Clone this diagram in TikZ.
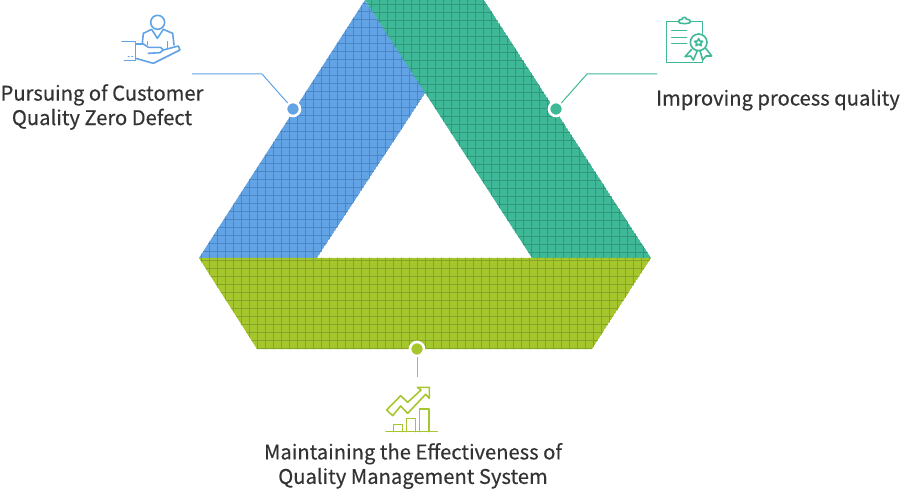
\documentclass[tikz,border=0pt]{standalone}
\usepackage{fontspec}
\setmainfont[FakeBold=0.4]{Noto Sans CJK KR}
\usetikzlibrary{positioning}
\definecolor{bluefill}{HTML}{62A3E6}
\definecolor{blueline}{HTML}{4D86C4}
\definecolor{greenfill}{HTML}{3FB898}
\definecolor{greenline}{HTML}{32967C}
\definecolor{olivefill}{HTML}{A6C62E}
\definecolor{oliveline}{HTML}{86A32A}
\definecolor{labeltext}{HTML}{333333}
\tikzset{
every picture/.style={
line width=1pt
},
label/.style={
  align=center, text=labeltext, font=\fontsize{20.2}{24.5}\selectfont, inner sep=0pt
},
dot/.style={
  circle, fill=#1, draw=white, line width=2.6pt, minimum size=14pt, inner sep=0pt, outer sep=1pt
},
icon/.style={
  draw=#1, line width=1.6pt, line join=round, line cap=round
}
}
\newcommand{\meshband}[5]{
  \begin{scope}
    \clip #1;
    \fill [#2] #1;
    \foreach \x in {0,8,...,896} \draw [#3] (\x+#4,0) -- (\x+#4,489);
    \foreach \y in {0,8,...,488} \draw [#3] (0,\y+#5) -- (900,\y+#5);
  \end{scope}
}
\begin{document}
\begin{tikzpicture}[x=1pt,y=-1pt]
\useasboundingbox (0,0) rectangle (900,489);

\meshband{(199,258) -- (365,0) -- (426,92) -- (317,258) -- cycle}{bluefill}{blueline}{1.5}{3.5}
\meshband{(365,0) -- (484,0) -- (651,258) -- (532,258) -- cycle}{greenfill}{greenline}{3.5}{4.5}
\meshband{(199,258) -- (651,258) -- (592,349) -- (257,349) -- cycle}{olivefill}{oliveline}{1.5}{4.5}

\node [dot=bluefill] at (293,109) (d1) {};
\node [dot=greenfill] at (556,109) (d2) {};
\node [dot=olivefill] at (417,349) (d3) {};

\coordinate (b1) at (262,74);
\coordinate (e1) at (192,74);
\coordinate (b2) at (587,74);
\coordinate (e2) at (657,74);
\coordinate (e3) at (417,377);

\draw [bluefill] (d1) -- (b1) -- (e1);
\draw [greenfill] (d2) -- (b2) -- (e2);
\draw [olivefill] (d3) -- (e3);

\node [label] at (102,107) (l1) {Pursuing of Customer\\Quality Zero Defect};
\node [label] at (778,100) (l2) {Improving process quality};
\node [label] at (413,466) (l3) {Maintaining the Effectiveness of\\Quality Management System};

% person with open hand
\begin{scope}[shift={(100,0)},x=1/3*1pt,y=-1/3*1pt]
  \draw [icon=bluefill] (173,67) circle (21);
  \draw [icon=bluefill] (127,130) -- (130,100) -- (155,88) -- (172,115) -- (190,88) -- (218,100) -- (222,135);
  \draw [icon=bluefill] (143,125) -- (143,134) (203,125) -- (203,145);
  \draw [icon=bluefill] (66,125) -- (107,125) -- (107,182) -- (73,182);
  \draw [icon=bluefill] (107,132) -- (130,132) -- (145,142) -- (182,142) -- (190,150) -- (180,158) -- (145,160);
  \draw [icon=bluefill] (107,175) -- (160,190) -- (240,150) -- (235,138) -- (190,150);
  \draw [icon=bluefill] (85,170) -- (87,170) (96,170) -- (98,170);
\end{scope}

% clipboard with rosette
\begin{scope}[shift={(540,0)},x=1/3*1pt,y=-1/3*1pt]
  \draw [icon=greenfill] (415,65) -- (380,65) -- (380,188) -- (487,188) -- (487,175);
  \draw [icon=greenfill] (487,100) -- (487,65) -- (452,65);
  \draw [icon=greenfill] (415,65) .. controls (415,73) and (452,73) .. (452,65) .. controls (452,58) and (442,58) .. (440,58) .. controls (438,50) and (428,50) .. (426,58) .. controls (420,58) and (415,60) .. (415,65);
  \foreach \y in {92,112,130} \draw [icon=greenfill] (395,\y) -- (440,\y);
  \draw [icon=greenfill] (476,127) circle (25);
  \draw [icon=greenfill] (476,116) -- (480,123) -- (488,124) -- (482,130) -- (484,137) -- (476,133) -- (468,137) -- (470,130) -- (464,124) -- (472,123) -- cycle;
  \draw [icon=greenfill] (455,148) -- (435,170) -- (452,168) -- (460,180) -- (472,152);
  \draw [icon=greenfill] (497,145) -- (515,168) -- (498,168) -- (488,180) -- (480,152);
\end{scope}

% rising chart
\begin{scope}[shift={(360,330)},x=1/3*1pt,y=-1/3*1pt]
  \draw [icon=olivefill] (78,305) -- (232,305);
  \draw [icon=olivefill] (100,305) -- (100,283) -- (128,283) -- (128,305);
  \draw [icon=olivefill] (140,305) -- (140,266) -- (167,266) -- (167,305);
  \draw [icon=olivefill] (179,305) -- (179,237) -- (207,237) -- (207,305);
  \draw [icon=olivefill] (80,240) -- (122,197) -- (143,217) -- (183,180) -- (172,172) -- (208,172) -- (208,205) -- (197,193) -- (143,250) -- (122,228) -- (98,257) -- cycle;
\end{scope}

\end{tikzpicture}
\end{document}
